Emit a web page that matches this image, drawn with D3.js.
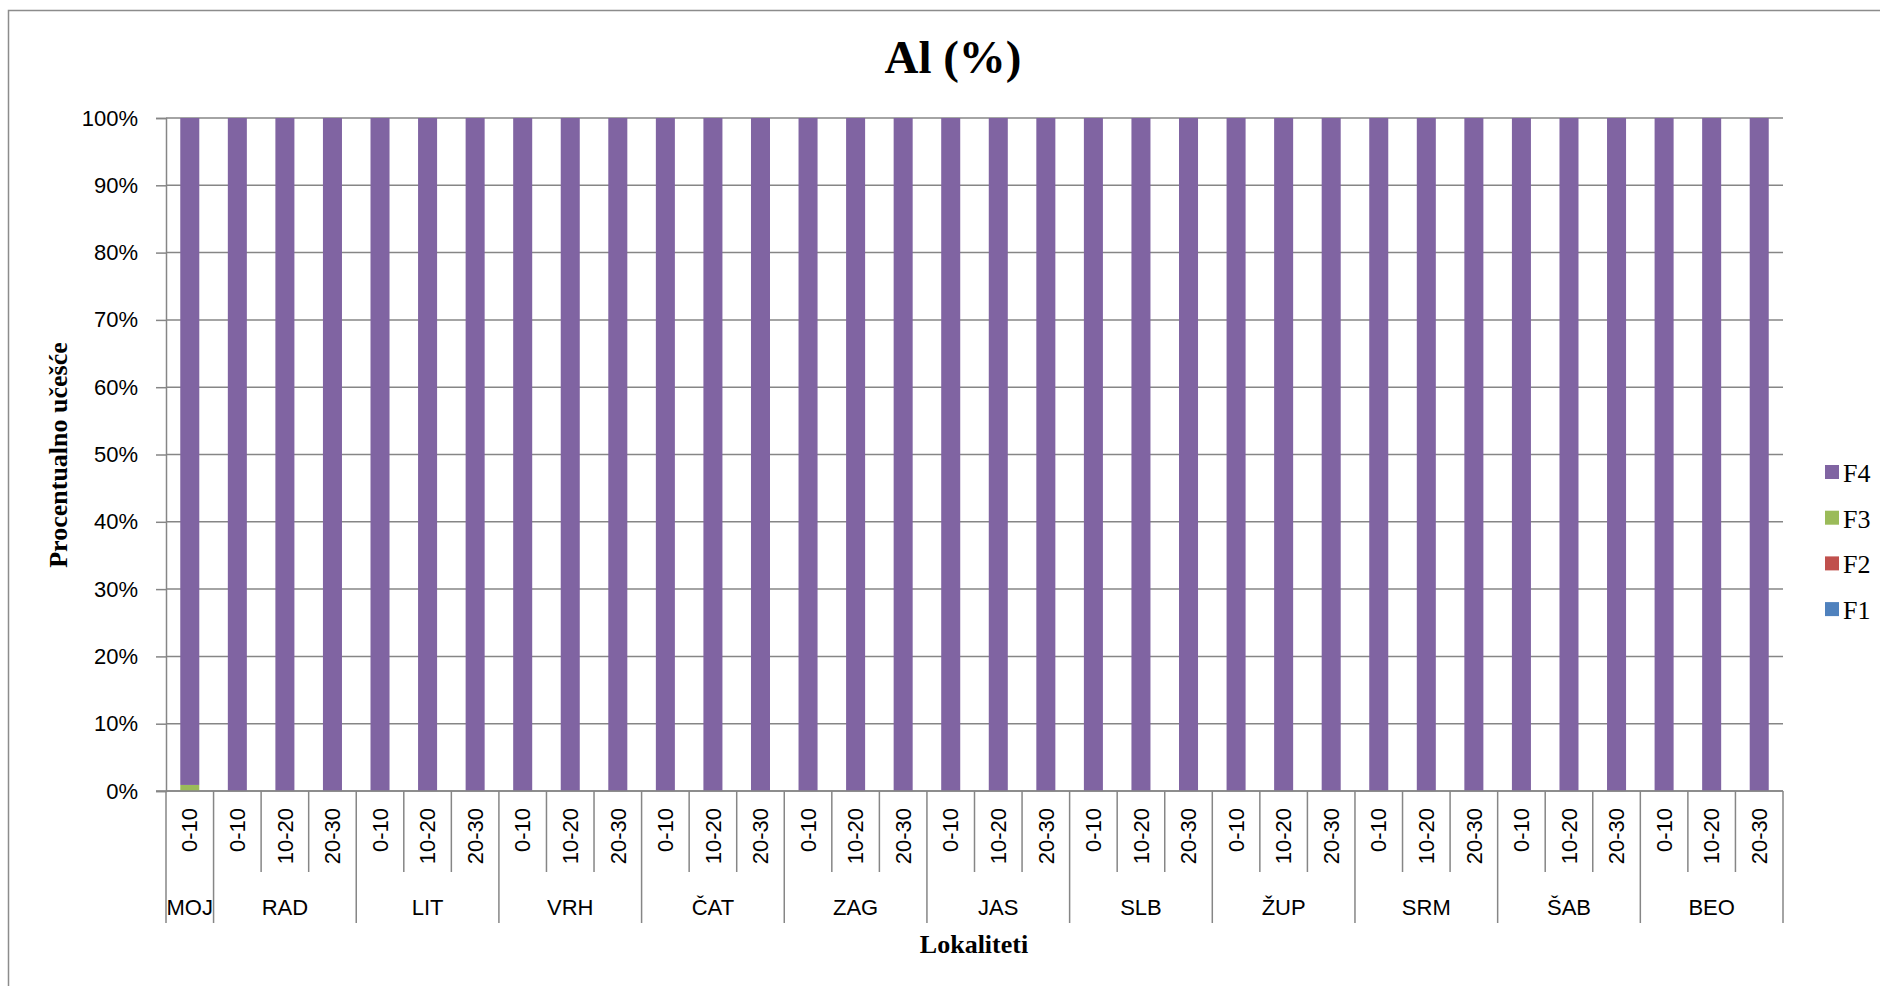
<!DOCTYPE html>
<html>
<head>
<meta charset="utf-8">
<script src="https://cdn.jsdelivr.net/npm/d3@7"></script>
<style>
  body { margin: 0; background: #fff; }
  svg { display: block; }
  .tick text { font-family: "Liberation Sans", Arial, sans-serif; }
</style>
</head>
<body>
<svg width="1880" height="986"></svg>
<script>
// sites and depth layers (cm)
var sites = ["MOJ", "RAD", "LIT", "VRH", "ČAT", "ZAG", "JAS", "SLB", "ŽUP", "SRM", "ŠAB", "BEO"];
var depths = [
  ["0-10"],
  ["0-10", "10-20", "20-30"], ["0-10", "10-20", "20-30"], ["0-10", "10-20", "20-30"],
  ["0-10", "10-20", "20-30"], ["0-10", "10-20", "20-30"], ["0-10", "10-20", "20-30"],
  ["0-10", "10-20", "20-30"], ["0-10", "10-20", "20-30"], ["0-10", "10-20", "20-30"],
  ["0-10", "10-20", "20-30"], ["0-10", "10-20", "20-30"]
];

// fractions in %, one value per bar (34 bars)
var F1 = [0, 0, 0, 0, 0, 0, 0, 0, 0, 0, 0, 0, 0, 0, 0, 0, 0, 0, 0, 0, 0, 0, 0, 0, 0, 0, 0, 0, 0, 0, 0, 0, 0, 0];
var F2 = [0, 0, 0, 0, 0, 0, 0, 0, 0, 0, 0, 0, 0, 0, 0, 0, 0, 0, 0, 0, 0, 0, 0, 0, 0, 0, 0, 0, 0, 0, 0, 0, 0, 0];
var F3 = [0.9, 0, 0, 0, 0, 0, 0, 0, 0, 0, 0, 0, 0, 0, 0, 0, 0, 0, 0, 0, 0, 0, 0, 0, 0, 0, 0, 0, 0, 0, 0, 0, 0, 0];
var F4 = [99.1, 100, 100, 100, 100, 100, 100, 100, 100, 100, 100, 100, 100, 100, 100, 100, 100, 100, 100, 100, 100, 100, 100, 100, 100, 100, 100, 100, 100, 100, 100, 100, 100, 100];

var yTicks = [0, 10, 20, 30, 40, 50, 60, 70, 80, 90, 100];
var seriesNames = ["F1", "F2", "F3", "F4"];
var colors = { F1: "#4F81BD", F2: "#C0504D", F3: "#9BBB59", F4: "#8064A2" };

var svg = d3.select("svg");
var plotL = 166, plotR = 1783, plotT = 118, plotB = 791;
var gridColor = "#868686";

// frame (only top and left edges visible in the picture)
svg.append("rect")
    .attr("x", 8.5).attr("y", 10.5)
    .attr("width", 1900).attr("height", 1000)
    .attr("fill", "none")
    .attr("stroke", "#8c8c8c")
    .attr("stroke-width", 1.5);

// flat rows for bars
var rows = [];
var groupStart = [];
sites.forEach(function(s, i) {
    groupStart.push(rows.length);
    depths[i].forEach(function(d) {
        rows.push({ key: s + "|" + d, site: s, depth: d });
    });
});
groupStart.push(rows.length);
rows.forEach(function(r, i) {
    r.F1 = F1[i]; r.F2 = F2[i]; r.F3 = F3[i]; r.F4 = F4[i];
});

var x = d3.scaleBand()
    .domain(rows.map(function(r) { return r.key; }))
    .range([plotL, plotR])
    .paddingInner(0.6)
    .paddingOuter(0.3);
var y = d3.scaleLinear().domain([0, 100]).range([plotB, plotT]);
var step = x.step();

// gridlines
svg.append("g")
    .selectAll("line")
    .data(yTicks)
    .enter()
    .append("line")
    .attr("x1", plotL).attr("x2", plotR)
    .attr("y1", function(d) { return y(d); })
    .attr("y2", function(d) { return y(d); })
    .attr("stroke", gridColor)
    .attr("stroke-width", 1.5);

// y axis
var yAxis = svg.append("g")
    .attr("transform", "translate(" + plotL + ",0)")
    .call(d3.axisLeft(y)
        .tickValues(yTicks)
        .tickSize(10)
        .tickPadding(18)
        .tickFormat(function(d) { return d + "%"; }));
yAxis.select(".domain").attr("stroke", gridColor).attr("stroke-width", 1.5);
yAxis.selectAll(".tick line").attr("stroke", gridColor).attr("stroke-width", 1.5);
yAxis.selectAll(".tick text")
    .attr("font-size", 22)
    .attr("fill", "#000");

// stacked bars
var stack = d3.stack().keys(seriesNames);
var layers = stack(rows);
svg.append("g")
    .selectAll("g")
    .data(layers)
    .enter()
    .append("g")
    .attr("fill", function(d) { return colors[d.key]; })
    .selectAll("rect")
    .data(function(d) { return d; })
    .enter()
    .append("rect")
    .attr("x", function(d) { return x(d.data.key); })
    .attr("width", x.bandwidth())
    .attr("y", function(d) { return y(d[1]); })
    .attr("height", function(d) { return y(d[0]) - y(d[1]); });

// category axis with separators
var catAxis = svg.append("g");
catAxis.append("line")
    .attr("x1", plotL - 10).attr("x2", plotR)
    .attr("y1", plotB).attr("y2", plotB)
    .attr("stroke", gridColor).attr("stroke-width", 1.5);

d3.range(rows.length + 1).forEach(function(i) {
    var major = groupStart.indexOf(i) >= 0;
    catAxis.append("line")
        .attr("x1", plotL + i * step).attr("x2", plotL + i * step)
        .attr("y1", plotB).attr("y2", major ? 923 : 872)
        .attr("stroke", gridColor).attr("stroke-width", 1.5);
});

catAxis.selectAll("text.depth")
    .data(rows)
    .enter()
    .append("text")
    .attr("class", "depth")
    .attr("transform", function(d) {
        return "translate(" + (x(d.key) + x.bandwidth() / 2) + ",808) rotate(-90)";
    })
    .attr("dy", "0.35em")
    .attr("text-anchor", "end")
    .attr("font-family", "Liberation Sans, Arial, sans-serif")
    .attr("font-size", 22)
    .text(function(d) { return d.depth; });

catAxis.selectAll("text.site")
    .data(sites)
    .enter()
    .append("text")
    .attr("class", "site")
    .attr("x", function(d, i) { return plotL + (groupStart[i] + groupStart[i + 1]) / 2 * step; })
    .attr("y", 915)
    .attr("text-anchor", "middle")
    .attr("font-family", "Liberation Sans, Arial, sans-serif")
    .attr("font-size", 22)
    .text(function(d) { return d; });

// titles
svg.append("text")
    .attr("x", 953).attr("y", 73)
    .attr("text-anchor", "middle")
    .attr("font-family", "Liberation Serif, Times New Roman, serif")
    .attr("font-weight", "bold")
    .attr("font-size", 47)
    .text("Al (%)");

svg.append("text")
    .attr("transform", "translate(67,455) rotate(-90)")
    .attr("text-anchor", "middle")
    .attr("font-family", "Liberation Serif, Times New Roman, serif")
    .attr("font-weight", "bold")
    .attr("font-size", 26)
    .text("Procentualno učešće");

svg.append("text")
    .attr("x", 974).attr("y", 953)
    .attr("text-anchor", "middle")
    .attr("font-family", "Liberation Serif, Times New Roman, serif")
    .attr("font-weight", "bold")
    .attr("font-size", 26)
    .text("Lokaliteti");

// legend (F4 on top)
var legend = svg.append("g")
    .selectAll("g")
    .data(seriesNames.slice().reverse())
    .enter()
    .append("g")
    .attr("transform", function(d, i) { return "translate(1825," + (465 + i * 45.7) + ")"; });
legend.append("rect")
    .attr("width", 14).attr("height", 14)
    .attr("fill", function(d) { return colors[d]; });
legend.append("text")
    .attr("x", 18).attr("y", 17)
    .attr("font-family", "Liberation Serif, Times New Roman, serif")
    .attr("font-size", 26)
    .text(function(d) { return d; });
</script>
</body>
</html>
